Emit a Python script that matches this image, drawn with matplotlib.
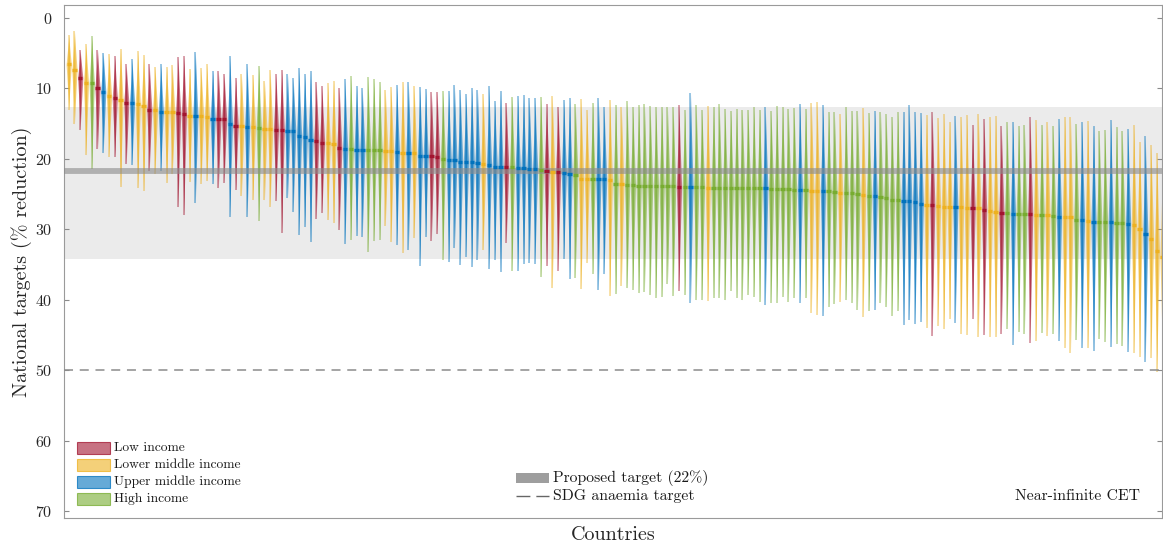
import matplotlib
matplotlib.use('Agg')
import matplotlib.pyplot as plt
import numpy as np
from matplotlib.patches import Rectangle
from matplotlib.lines import Line2D

plt.rcParams['font.family'] = ['cmr10', 'DejaVu Serif']
plt.rcParams['axes.formatter.use_mathtext'] = True

# ---------------- data ----------------
# income group: L = low, M = lower middle, U = upper middle, H = high
income = list("MMLMHLUMLM" "LUMMLMUMML" "LMUMMULLUL" "MUMHMMLLUU" "UUULLMMLUH"
              "UUHHHMMUMU" "MUULLHUUUU" "UUMUUULHUU" "UUHLMLUUHM" "MHUUMHMHHH"
              "HHHHHHLHUH" "HMHHHHHHHH" "HUHHHHHUHM" "MUHHMHHHMH" "UHHHHUUUUM"
              "LMMMUMMLML" "MMLHUHHLMH" "MHUMMHUMUH" "HUHHUMMUMMM")

target_median = [
    6.6, 7.4, 8.5, 9.2, 9.3, 10.0, 10.5, 11.1, 11.4, 11.7,
    12.0, 12.1, 12.2, 12.5, 13.0, 13.1, 13.3, 13.3, 13.4, 13.5,
    13.6, 13.9, 13.9, 13.9, 14.1, 14.3, 14.4, 14.4, 15.0, 15.3,
    15.4, 15.5, 15.5, 15.6, 15.8, 15.8, 15.9, 15.9, 16.0, 16.0,
    16.7, 16.9, 17.3, 17.4, 17.7, 17.8, 17.9, 18.5, 18.6, 18.6,
    18.7, 18.7, 18.75, 18.8, 18.8, 18.9, 18.9, 19.0, 19.1, 19.1,
    19.1, 19.6, 19.6, 19.65, 19.7, 20.0, 20.1, 20.2, 20.4, 20.45,
    20.5, 20.6, 20.8, 20.9, 21.1, 21.1, 21.2, 21.2, 21.3, 21.3,
    21.4, 21.45, 21.6, 21.7, 21.9, 21.9, 22.0, 22.2, 22.3, 22.8,
    22.8, 22.9, 22.9, 22.9, 23.0, 23.5, 23.6, 23.7, 23.7, 23.8,
    23.8, 23.8, 23.9, 23.9, 23.9, 23.9, 24.0, 24.0, 24.0, 24.0,
    24.0, 24.1, 24.1, 24.1, 24.1, 24.1, 24.2, 24.2, 24.2, 24.2,
    24.2, 24.2, 24.3, 24.3, 24.3, 24.3, 24.4, 24.4, 24.4, 24.5,
    24.5, 24.5, 24.6, 24.7, 24.8, 24.8, 24.9, 25.0, 25.1, 25.3,
    25.3, 25.4, 25.5, 25.9, 25.9, 26.0, 26.0, 26.1, 26.4, 26.6,
    26.6, 26.7, 26.8, 26.8, 26.8, 26.9, 27.0, 27.0, 27.0, 27.2,
    27.4, 27.6, 27.7, 27.7, 27.8, 27.8, 27.8, 27.9, 28.0, 28.0,
    28.0, 28.1, 28.2, 28.3, 28.3, 28.7, 28.7, 28.8, 29.0, 29.0,
    29.0, 29.0, 29.1, 29.1, 29.2, 29.4, 30.0, 30.7, 31.4, 33.1, 33.9]

target_low = [
    2.4, 1.8, 4.5, 3.7, 2.6, 4.5, 4.9, 5.1, 5.4, 4.4,
    6.6, 5.8, 4.7, 5.3, 6.6, 6.9, 6.6, 7.0, 6.7, 5.5,
    5.4, 7.2, 4.8, 7.1, 6.5, 7.5, 7.5, 7.9, 5.4, 8.5,
    7.9, 6.6, 8.1, 6.8, 8.9, 7.4, 7.9, 7.4, 7.9, 8.5,
    7.1, 7.9, 7.5, 9.1, 9.7, 9.3, 9.0, 9.9, 8.7, 8.3,
    9.7, 10.0, 8.4, 8.6, 9.1, 10.2, 9.8, 9.5, 9.1, 9.1,
    9.7, 9.8, 10.1, 10.5, 10.5, 10.4, 10.4, 9.5, 10.2, 10.8,
    9.9, 10.2, 10.8, 9.7, 11.8, 10.4, 12.0, 11.2, 11.1, 11.0,
    11.4, 11.3, 11.2, 12.2, 11.1, 12.6, 11.6, 11.4, 12.2, 11.5,
    13.0, 12.0, 11.4, 12.6, 11.7, 12.3, 12.7, 11.8, 12.6, 12.4,
    12.2, 12.5, 12.7, 12.6, 12.7, 12.7, 12.4, 13.1, 10.7, 12.4,
    13.1, 12.5, 12.6, 12.2, 12.9, 13.2, 12.9, 13.0, 13.0, 12.7,
    13.0, 12.7, 13.2, 12.5, 12.6, 12.9, 12.8, 12.2, 12.9, 12.0,
    11.9, 12.4, 13.4, 13.4, 13.7, 12.6, 13.2, 13.2, 12.8, 13.5,
    13.2, 13.3, 13.7, 14.1, 13.4, 13.3, 12.4, 13.4, 13.5, 13.8,
    13.4, 14.2, 13.7, 14.7, 13.9, 14.0, 13.8, 15.2, 13.6, 14.3,
    14.1, 13.9, 15.4, 14.8, 14.7, 15.3, 15.2, 14.1, 14.5, 15.2,
    14.8, 15.3, 14.3, 14.0, 14.1, 15.1, 14.8, 14.6, 15.4, 16.1,
    15.9, 14.5, 15.5, 16.0, 15.7, 15.2, 17.6, 16.8, 18.0, 19.1, 19.5]

target_high = [
    13.1, 15.1, 15.9, 19.5, 21.4, 18.6, 19.2, 19.7, 19.7, 24.0,
    20.7, 20.9, 24.1, 24.5, 21.7, 22.1, 21.7, 23.4, 22.2, 26.9,
    28.0, 23.3, 26.3, 23.5, 23.2, 23.6, 24.2, 23.4, 28.2, 24.4,
    25.3, 28.2, 25.9, 28.8, 25.9, 26.8, 26.0, 30.5, 25.6, 27.6,
    30.8, 29.7, 31.8, 28.5, 27.7, 28.7, 29.1, 30.1, 32.1, 31.5,
    30.9, 31.1, 33.2, 31.7, 31.5, 29.5, 31.8, 32.3, 33.3, 33.0,
    31.3, 35.2, 31.1, 31.6, 30.7, 34.4, 34.7, 32.7, 35.0, 33.9,
    35.3, 34.3, 33.0, 35.7, 34.4, 36.0, 31.9, 35.9, 35.9, 34.9,
    34.8, 34.9, 36.8, 35.2, 38.4, 35.9, 34.2, 37.0, 36.9, 38.5,
    34.8, 36.3, 38.6, 36.4, 39.5, 39.2, 38.0, 38.4, 38.6, 39.1,
    38.9, 39.3, 39.7, 39.6, 37.8, 39.5, 38.7, 39.3, 40.4, 40.1,
    40.1, 40.2, 39.7, 39.7, 40.1, 38.7, 39.7, 40.1, 39.3, 39.6,
    40.3, 40.8, 40.5, 40.4, 39.6, 40.3, 39.7, 40.4, 39.8, 41.9,
    42.2, 42.3, 41.0, 40.6, 40.3, 40.1, 40.5, 41.4, 42.4, 41.6,
    41.4, 40.5, 41.1, 42.3, 41.6, 43.6, 42.9, 43.5, 43.1, 44.0,
    45.2, 43.7, 44.2, 42.8, 43.3, 44.9, 45.0, 42.8, 45.3, 45.0,
    45.3, 45.3, 44.9, 44.1, 46.4, 44.6, 44.9, 46.1, 45.9, 44.7,
    45.2, 44.8, 45.8, 46.8, 47.5, 45.7, 46.8, 46.9, 47.3, 45.6,
    46.0, 46.7, 46.3, 46.6, 47.4, 47.6, 48.1, 48.8, 48.3, 50.2, 50.4]

group_labels = {'L': 'Low income', 'M': 'Lower middle income',
                'U': 'Upper middle income', 'H': 'High income'}
group_order = ['L', 'M', 'U', 'H']

proposed_target = 21.7
proposed_band = (12.6, 34.2)
sdg_target = 50

# ---------------- styles ----------------
colors = {'L': (0.635, 0.078, 0.184), 'M': (0.929, 0.694, 0.125),
          'U': (0.000, 0.447, 0.741), 'H': (0.466, 0.674, 0.188)}

W, H = 1163, 549
fig = plt.figure(figsize=(W / 100, H / 100), dpi=100)
ax_l, ax_r, ax_t, ax_b = 63.7, 1162.3, 5.0, 518.0
ax = fig.add_axes([ax_l / W, 1 - ax_b / H, (ax_r - ax_l) / W, (ax_b - ax_t) / H])

n = len(target_median)
xs = np.arange(1, n + 1)

# background band of proposed target range
ax.axhspan(proposed_band[0], proposed_band[1], color='#ebebeb', lw=0, zorder=0)

def half_widths(lo, med, hi, wmax, p=1.0, k=40):
    yu = np.linspace(lo, med, k)
    tu = (med - yu) / max(med - lo, 1e-6)
    yd = np.linspace(med, hi, k)[1:]
    td = (yd - med) / max(hi - med, 1e-6)
    y = np.concatenate([yu, yd])
    t = np.concatenate([tu, td])
    return y, wmax * (1 - t) ** p

for x, g, lo, med, hi in zip(xs, income, target_low, target_median, target_high):
    c = colors[g]
    ax.plot([x, x], [lo, hi], color=c, alpha=0.5, lw=1.1,
            solid_capstyle='butt', zorder=2)
    y, hw = half_widths(lo, med, hi, 0.46, p=1.15)
    ax.fill_betweenx(y, x - hw, x + hw, color=c, alpha=0.55, lw=0, zorder=2.1)
    y, hw = half_widths(lo, med, hi, 0.2, p=1.15)
    ax.fill_betweenx(y, x - hw, x + hw, color=c, alpha=0.5, lw=0, zorder=2.2)

# proposed target line and SDG line
ax.axhline(proposed_target, color='#8c8c8c', alpha=0.62, lw=4.2, zorder=3)
ax.axhline(sdg_target, color='#8c8c8c', lw=1.1, ls=(0, (5.9, 4.4)), zorder=3)

# medians
for x, g, med in zip(xs, income, target_median):
    ax.plot([x - 0.38, x + 0.38], [med, med], color=colors[g], lw=2.4,
            solid_capstyle='butt', zorder=4)

ax.set_xlim(0.13, 190.95)
ax.set_ylim((ax_b - 18.0) / 7.043, (ax_t - 18.0) / 7.043)
ax.set_yticks(np.arange(0, 71, 10))
ax.set_xticks([])
ax.tick_params(axis='y', direction='in', length=3.5, width=0.8, color='#8a8a8a',
               labelsize=11.5, labelcolor='#262626', pad=8, right=True)
for s in ax.spines.values():
    s.set_color('#9a9a9a')
    s.set_linewidth(0.8)

def ax_xy(px, py):
    return ((px - ax_l) / (ax_r - ax_l), (ax_b - py) / (ax_b - ax_t))

# income group legend
rows_y = [447.5, 465.0, 482.0, 499.0]
for g, py in zip(group_order, rows_y):
    x0, y0 = ax_xy(77, py + 6)
    x1, y1 = ax_xy(110, py - 6)
    ax.add_patch(Rectangle((x0, y0), x1 - x0, y1 - y0, transform=ax.transAxes,
                           facecolor=colors[g] + (0.6,), edgecolor=colors[g] + (0.75,),
                           lw=0.8, zorder=6))
    tx, ty = ax_xy(114, py)
    ax.text(tx, ty, group_labels[g], transform=ax.transAxes, fontsize=9.7,
            va='center', ha='left', color='#1a1a1a', zorder=6)

# target legend
x0, y0 = ax_xy(516, 483)
x1, y1 = ax_xy(549, 473)
ax.add_patch(Rectangle((x0, y0), x1 - x0, y1 - y0, transform=ax.transAxes,
                       facecolor='#9e9e9e', edgecolor='none', zorder=6))
tx, ty = ax_xy(553, 478)
ax.text(tx, ty, 'Proposed target (22%)', transform=ax.transAxes, fontsize=11.3,
        va='center', ha='left', color='#1a1a1a', zorder=6)
lx0, ly = ax_xy(516, 496)
lx1, _ = ax_xy(549, 496)
ax.add_line(Line2D([lx0, lx1], [ly, ly], transform=ax.transAxes, color='#666666',
                   lw=1.0, ls=(0, (10.0, 4.3)), zorder=6))
tx, ty = ax_xy(553, 496)
ax.text(tx, ty, 'SDG anaemia target', transform=ax.transAxes, fontsize=11.3,
        va='center', ha='left', color='#1a1a1a', zorder=6)

tx, ty = ax_xy(1140, 496)
ax.text(tx, ty, 'Near-infinite CET', transform=ax.transAxes, fontsize=11.3,
        va='center', ha='right', color='#1a1a1a', zorder=6)

# axis labels
fig.text(22 / W, 1 - 262 / H, 'National targets (% reduction)', rotation=90,
         fontsize=14.5, va='center', ha='center', color='#262626')
fig.text(613 / W, 1 - 535 / H, 'Countries', fontsize=14.5, va='center',
         ha='center', color='#262626')

fig.savefig('out.png', dpi=100)
